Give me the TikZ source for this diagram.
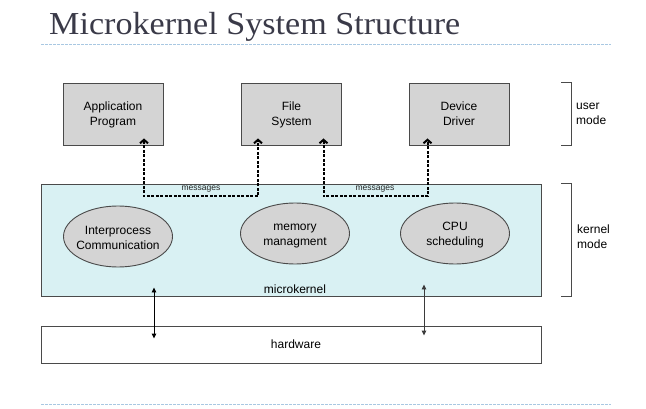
\documentclass[tikz,border=0pt]{standalone}
\usepackage{fontspec}
\setmainfont{Liberation Sans}
\newfontfamily\titlefont{Liberation Serif}
\usetikzlibrary{shapes.geometric,arrows.meta}
\definecolor{titlecol}{HTML}{3A3A48}
\definecolor{rulecol}{HTML}{A9C8E2}
\definecolor{boxfill}{HTML}{D4D4D4}
\definecolor{kernfill}{HTML}{D9F1F3}
\definecolor{edgecol}{HTML}{4A4A4A}
\newcommand{\txtline}[1]{\strut #1}
\tikzset{
  userbox/.style={draw=edgecol, line width=0.9pt, fill=boxfill, minimum width=100pt, minimum height=62pt,
    inner sep=0pt, align=center, font=\fontsize{12}{15}\selectfont},
  svc/.style={ellipse, draw=edgecol, line width=0.9pt, fill=boxfill, minimum width=109pt, minimum height=61pt,
    inner sep=0pt, align=center, font=\fontsize{12}{15}\selectfont},
  layer/.style={draw=edgecol, line width=0.9pt, minimum width=500pt, inner sep=0pt},
  msg/.style={line width=2pt, dash pattern=on 3pt off 1.5pt, {Straight Barb[length=3.5pt,width=8pt,line width=2pt]}-{Straight Barb[length=3.5pt,width=8pt,line width=2pt]}},
  msglabel/.style={font=\fontsize{8.5}{10}\selectfont, inner sep=0pt, text=black!85},
  hwarrow/.style={line width=0.9pt, {Triangle[length=5pt,width=4.5pt]}-{Triangle[length=5pt,width=4.5pt]}},
  bracket/.style={draw=edgecol, line width=0.9pt},
  sidelabel/.style={font=\fontsize{12}{15}\selectfont, align=left, anchor=west, inner sep=0pt},
  rule/.style={draw=rulecol, line width=0.8pt, dash pattern=on 2.5pt off 1.5pt}
}
\begin{document}
\begin{tikzpicture}[x=1pt,y=-1pt]
\useasboundingbox (0,0) rectangle (646,409);
% title
\node[anchor=base west, inner sep=0pt, text=titlecol] (title) at (49,34.5)
  {\titlefont\fontsize{32}{36}\selectfont\scalebox{1.066}[1]{Microkernel System Structure}};
\draw[rule] (41,44) -- (611,44);
\draw[rule] (41,404.5) -- (611,404.5);

% user-mode boxes
\node[userbox] (app) at (113,114) {};
\node[userbox] (fs) at (291.5,114) {};
\node[userbox] (dd) at (459,114) {};
\node[align=center, font=\fontsize{12}{15}\selectfont, inner sep=0pt] (appl) at (113,115.3) {\txtline{Application}\\\txtline{Program}};
\node[align=center, font=\fontsize{12}{15}\selectfont, inner sep=0pt] (fsl) at (291.5,115.3) {\txtline{File}\\\txtline{System}};
\node[align=center, font=\fontsize{12}{15}\selectfont, inner sep=0pt] (ddl) at (459,115.3) {\txtline{Device}\\\txtline{Driver}};

% kernel
\node[layer, fill=kernfill, minimum height=112pt] (kern) at (291,240) {};
\node[svc] (ipc) at (118,236.5) {};
\node[svc] (mem) at (295,233.5) {};
\node[svc] (cpu) at (455,233.5) {};
\node[align=center, font=\fontsize{12}{15}\selectfont, inner sep=0pt] (ipcl) at (118,239) {\txtline{Interprocess}\\\txtline{Communication}};
\node[align=center, font=\fontsize{12}{15}\selectfont, inner sep=0pt] (meml) at (295,235) {\txtline{memory}\\\txtline{managment}};
\node[align=center, font=\fontsize{12}{15}\selectfont, inner sep=0pt] (cpul) at (455,235) {\txtline{CPU}\\\txtline{scheduling}};
\node[font=\fontsize{12}{15}\selectfont, inner sep=0pt] (mk) at (295,289) {microkernel};

% hardware
\node[layer, fill=white, minimum height=37pt] (hw) at (291,344.5) {};
\node[font=\fontsize{12}{15}\selectfont, inner sep=0pt] (hwl) at (296,344.5) {hardware};

% messages
\coordinate (m1) at (201,196.5);
\coordinate (m2) at (375,196.5);
\draw[msg] ([shift={(31,-7)}]app.south) |- (m1) -| ([shift={(-33.5,-7)}]fs.south);
\draw[msg] ([shift={(32,-7)}]fs.south) |- (m2) -| ([shift={(-31.5,-7)}]dd.south);
\node[msglabel] (l1) at (201,189) {messages};
\node[msglabel] (l2) at (375,189) {messages};

% kernel <-> hardware
\draw[hwarrow] ([shift={(-137,-9)}]kern.south) -- ([shift={(-137,13)}]hw.north);
\draw[hwarrow, draw=edgecol!80!black, fill=black] ([shift={(133,-12)}]kern.south) -- ([shift={(133,10)}]hw.north);

% brackets
\draw[bracket] ([xshift=52]dd.north east) -- ++(10,0) |- ([xshift=52]dd.south east);
\draw[bracket] ([xshift=20]kern.north east) -- ++(10,0) |- ([xshift=20]kern.south east);
\node[sidelabel] (um) at (576,114) {user\\mode};
\node[sidelabel] (km) at (577,237) {kernel\\mode};
\end{tikzpicture}
\end{document}
